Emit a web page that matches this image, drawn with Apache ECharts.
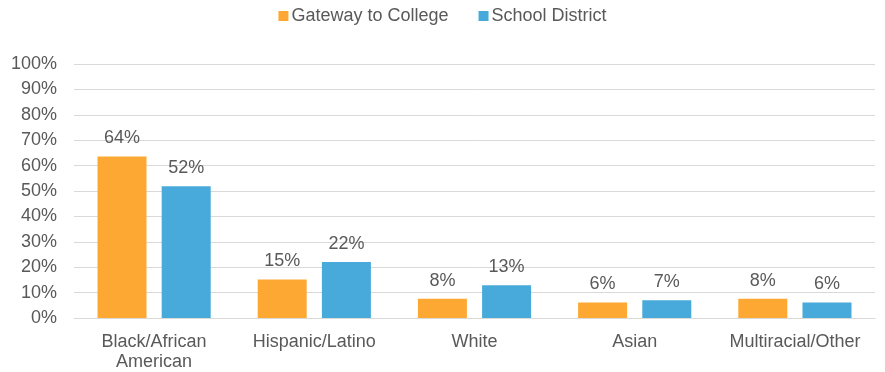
<!DOCTYPE html>
<html>
<head>
<meta charset="utf-8">
<script src="https://cdn.jsdelivr.net/npm/echarts@6/dist/echarts.min.js"></script>
<style>
  html, body { margin: 0; padding: 0; background: #fff; }
  #chart { width: 885px; height: 372px; }
</style>
</head>
<body>
<div id="chart"></div>
<script>
const categories = ['Black/African\nAmerican', 'Hispanic/Latino', 'White', 'Asian', 'Multiracial/Other'];
const gatewayValues = [63.6, 15.2, 7.6, 6.1, 7.6];
const districtValues = [51.9, 22.0, 12.9, 7.0, 6.1];
const seriesNames = ['Gateway to College', 'School District'];

const textColor = '#595959';
const font = '"Liberation Sans", Arial, sans-serif';
const fs = 18;

const chart = echarts.init(document.getElementById('chart'));

const barLabel = {
    show: true,
    position: 'top',
    distance: 9,
    color: textColor,
    fontFamily: font,
    fontSize: fs,
    formatter: (p) => Math.round(p.value) + '%',
};

const option = {
    animation: false,
    textStyle: { fontFamily: font },
    legend: {
        top: 2,
        left: 'center',
        itemWidth: 10,
        itemHeight: 10,
        itemGap: 30,
        icon: 'rect',
        textStyle: { color: textColor, fontSize: fs, fontFamily: font, padding: [0, 0, 0, -2] },
        data: seriesNames,
    },
    grid: {
        left: 74,
        right: 10,
        top: 64,
        bottom: 54,
    },
    xAxis: {
        type: 'category',
        data: categories,
        axisLine: { lineStyle: { color: '#D9D9D9', width: 1 } },
        axisTick: { show: false },
        axisLabel: {
            color: textColor,
            fontSize: fs,
            fontFamily: font,
            margin: 14,
            lineHeight: 20,
            interval: 0,
        },
    },
    yAxis: {
        type: 'value',
        min: 0,
        max: 100,
        interval: 10,
        axisLine: { show: false },
        axisTick: { show: false },
        splitLine: { lineStyle: { color: '#D9D9D9', width: 1 } },
        axisLabel: {
            color: textColor,
            fontSize: fs,
            fontFamily: font,
            margin: 17,
            formatter: '{value}%',
        },
    },
    series: [
        {
            name: seriesNames[0],
            type: 'bar',
            data: gatewayValues,
            barWidth: 49,
            barGap: '31%',
            itemStyle: { color: '#FDA832' },
            label: barLabel,
        },
        {
            name: seriesNames[1],
            type: 'bar',
            data: districtValues,
            barWidth: 49,
            itemStyle: { color: '#48AADA' },
            label: barLabel,
        },
    ],
};

chart.setOption(option);
</script>
</body>
</html>
